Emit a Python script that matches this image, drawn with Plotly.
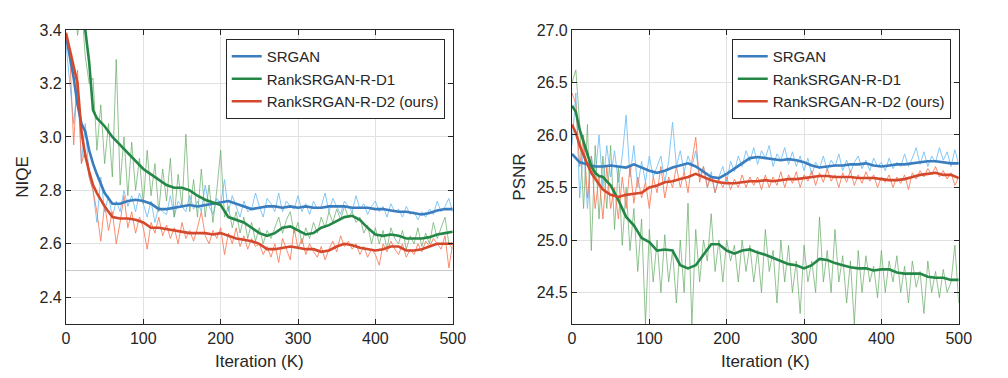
import plotly.graph_objects as go

# ---------------- data ----------------
# raw (thin) curves sampled every 5K iterations
raw_iter = list(range(0, 505, 5))
# smoothed (thick) curves
smooth_iter = [0, 5, 10, 15, 20, 25, 30, 35, 40] + list(range(50, 510, 10))

niqe_srgan_raw = [3.35, 3.20, 3.05, 3.20, 2.90, 3.05, 2.85, 2.80, 2.68, 2.85, 2.72, 2.78, 2.70, 2.76, 2.72, 2.80, 2.74, 2.78, 2.72, 2.79,
                  2.75, 2.70, 2.76, 2.68, 2.74, 2.72, 2.71, 2.78, 2.70, 2.76, 2.74, 2.72, 2.78, 2.73, 2.76, 2.72, 2.82, 2.74, 2.71, 2.77,
                  2.75, 2.84, 2.72, 2.78, 2.74, 2.70, 2.76, 2.72, 2.73, 2.79, 2.74, 2.70, 2.77, 2.75, 2.72, 2.79, 2.72, 2.76, 2.74, 2.73,
                  2.78, 2.72, 2.75, 2.71, 2.76, 2.73, 2.74, 2.79, 2.72, 2.77, 2.74, 2.71, 2.76, 2.74, 2.72, 2.78, 2.73, 2.75, 2.71, 2.74,
                  2.76, 2.72, 2.74, 2.70, 2.75, 2.72, 2.73, 2.70, 2.74, 2.71, 2.72, 2.69, 2.72, 2.70, 2.73, 2.71, 2.76, 2.72, 2.74, 2.77, 2.72]
niqe_d1_raw = [3.50, 3.45, 3.60, 3.38, 3.50, 3.30, 3.20, 3.22, 2.95, 3.12, 2.90, 3.05, 2.85, 3.29, 2.82, 3.00, 2.78, 2.98, 2.80, 2.92,
               2.75, 2.95, 2.78, 2.90, 2.72, 2.88, 2.76, 2.92, 2.70, 2.86, 2.74, 3.01, 2.72, 2.84, 2.70, 2.88, 2.70, 2.82, 2.68, 2.80,
               2.95, 2.70, 2.74, 2.66, 2.72, 2.64, 2.70, 2.62, 2.68, 2.61, 2.66, 2.60, 2.65, 2.62, 2.66, 2.70, 2.64, 2.69, 2.72, 2.64,
               2.68, 2.60, 2.66, 2.62, 2.68, 2.64, 2.70, 2.66, 2.72, 2.68, 2.73, 2.69, 2.74, 2.70, 2.72, 2.68, 2.70, 2.64, 2.67, 2.60,
               2.66, 2.60, 2.65, 2.58, 2.66, 2.62, 2.60, 2.65, 2.58, 2.63, 2.60, 2.66, 2.59, 2.64, 2.60, 2.68, 2.62, 2.66, 2.70, 2.60, 2.58]
niqe_d2_raw = [3.38, 3.30, 2.97, 3.25, 2.90, 2.95, 2.85, 2.80, 2.72, 2.61, 2.75, 2.65, 2.72, 2.60, 2.68, 2.78, 2.66, 2.72, 2.64, 2.70,
               2.66, 2.58, 2.68, 2.64, 2.70, 2.63, 2.67, 2.62, 2.66, 2.60, 2.68, 2.62, 2.65, 2.61, 2.66, 2.72, 2.63, 2.60, 2.65, 2.62,
               2.66, 2.56, 2.64, 2.60, 2.66, 2.59, 2.63, 2.58, 2.62, 2.59, 2.60, 2.56, 2.59, 2.55, 2.60, 2.53, 2.62, 2.58, 2.54, 2.66,
               2.58, 2.62, 2.56, 2.60, 2.57, 2.55, 2.59, 2.54, 2.58, 2.61, 2.57, 2.63, 2.59, 2.61, 2.58, 2.60, 2.56, 2.59, 2.55, 2.58,
               2.56, 2.52, 2.60, 2.57, 2.61, 2.58, 2.56, 2.60, 2.55, 2.58, 2.56, 2.60, 2.57, 2.61, 2.59, 2.62, 2.60, 2.58, 2.63, 2.51, 2.60]

niqe_srgan = [3.38, 3.30, 3.22, 3.12, 3.05, 3.02, 2.95, 2.90, 2.86, 2.79, 2.75, 2.75, 2.76, 2.765, 2.76, 2.75, 2.73, 2.73, 2.735, 2.74,
              2.745, 2.74, 2.745, 2.75, 2.755, 2.76, 2.75, 2.74, 2.73, 2.735, 2.74, 2.74, 2.735, 2.74, 2.735, 2.74, 2.735, 2.735, 2.74,
              2.74, 2.74, 2.735, 2.735, 2.735, 2.73, 2.73, 2.725, 2.72, 2.72, 2.715, 2.71, 2.715, 2.725, 2.73, 2.73]
niqe_d1 = [3.70, 3.62, 3.55, 3.48, 3.44, 3.40, 3.28, 3.10, 3.07, 3.04, 3.00, 2.97, 2.94, 2.91, 2.88, 2.86, 2.84, 2.82, 2.81, 2.81,
           2.80, 2.78, 2.765, 2.755, 2.745, 2.70, 2.69, 2.68, 2.66, 2.64, 2.63, 2.64, 2.66, 2.665, 2.65, 2.635, 2.64, 2.66, 2.67,
           2.685, 2.70, 2.705, 2.69, 2.66, 2.635, 2.63, 2.635, 2.63, 2.62, 2.62, 2.62, 2.625, 2.635, 2.64, 2.645]
niqe_d2 = [3.39, 3.33, 3.27, 3.20, 3.02, 2.93, 2.87, 2.82, 2.79, 2.74, 2.70, 2.695, 2.695, 2.69, 2.68, 2.66, 2.66, 2.655, 2.65, 2.645,
           2.64, 2.64, 2.64, 2.635, 2.64, 2.63, 2.62, 2.615, 2.61, 2.60, 2.58, 2.58, 2.585, 2.59, 2.585, 2.58, 2.58, 2.57, 2.575,
           2.59, 2.60, 2.595, 2.585, 2.58, 2.575, 2.58, 2.59, 2.59, 2.575, 2.575, 2.58, 2.59, 2.60, 2.60, 2.60]

psnr_srgan_raw = [25.90, 26.40, 25.40, 25.90, 25.30, 25.80, 25.60, 26.00, 25.50, 25.90, 25.60, 25.85, 25.55, 25.80, 26.19, 25.60, 25.90, 25.50, 25.75, 25.55,
                  25.80, 25.60, 25.70, 25.80, 25.55, 25.75, 26.12, 25.70, 25.85, 25.65, 25.80, 25.70, 25.85, 25.60, 25.70, 25.50, 25.65, 25.45, 25.60, 25.70,
                  25.55, 25.75, 25.65, 25.80, 25.70, 25.85, 25.75, 25.88, 25.72, 25.85, 25.78, 25.90, 25.70, 25.82, 25.76, 25.88, 25.72, 25.84, 25.70, 25.80,
                  25.66, 25.78, 25.62, 25.74, 25.68, 25.80, 25.66, 25.76, 25.70, 25.82, 25.66, 25.76, 25.64, 25.74, 25.80, 25.68, 25.76, 25.66, 25.78, 25.70,
                  25.74, 25.66, 25.78, 25.68, 25.74, 25.70, 25.82, 25.70, 25.78, 25.88, 25.72, 25.84, 25.70, 25.80, 25.74, 25.88, 25.76, 25.84, 25.70, 25.86, 25.72]
psnr_d1_raw = [26.50, 26.62, 26.10, 25.30, 26.10, 24.90, 25.90, 25.20, 25.80, 25.30, 25.90, 25.10, 25.70, 24.95, 25.50, 24.90, 25.30, 24.70, 25.20, 24.20,
               25.10, 24.60, 25.00, 24.50, 25.05, 24.60, 24.90, 24.40, 25.00, 24.50, 25.35, 24.20, 25.10, 24.60, 25.00, 24.80, 25.25, 24.70, 25.00, 24.60,
               25.00, 24.80, 24.95, 24.60, 25.00, 24.70, 24.95, 24.60, 24.90, 24.50, 25.10, 24.70, 24.90, 24.40, 25.00, 24.60, 24.95, 24.50, 24.80, 24.30,
               24.95, 24.60, 24.80, 24.50, 25.22, 24.60, 24.90, 24.50, 25.10, 24.60, 24.85, 24.40, 24.80, 24.20, 24.90, 24.50, 24.85, 24.60, 24.75, 24.45,
               24.90, 24.50, 24.80, 24.60, 24.85, 24.50, 24.75, 24.40, 24.80, 24.55, 24.70, 24.30, 24.80, 24.50, 24.70, 24.45, 24.72, 24.50, 24.60, 24.95, 24.40]
psnr_d2_raw = [26.40, 26.30, 25.70, 26.00, 25.40, 25.80, 25.30, 25.60, 25.20, 25.70, 25.30, 25.50, 25.20, 25.60, 25.30, 25.70, 25.35, 25.60, 25.40, 25.55,
               25.30, 25.60, 25.45, 25.70, 25.40, 25.60, 25.50, 25.70, 25.50, 25.65, 25.45, 25.75, 25.98, 25.55, 25.70, 25.50, 25.62, 25.45, 25.58, 25.50,
               25.60, 25.48, 25.58, 25.50, 25.62, 25.50, 25.60, 25.52, 25.60, 25.48, 25.62, 25.50, 25.60, 25.52, 25.65, 25.50, 25.62, 25.54, 25.65, 25.50,
               25.62, 25.56, 25.66, 25.52, 25.64, 25.55, 25.68, 25.56, 25.62, 25.50, 25.64, 25.55, 25.66, 25.52, 25.62, 25.54, 25.65, 25.56, 25.62, 25.50,
               25.60, 25.55, 25.62, 25.50, 25.60, 25.54, 25.62, 25.48, 25.64, 25.58, 25.66, 25.60, 25.68, 25.62, 25.70, 25.60, 25.66, 25.58, 25.64, 25.52, 25.60]

psnr_srgan = [25.82, 25.78, 25.74, 25.73, 25.72, 25.71, 25.70, 25.70, 25.70, 25.71, 25.70, 25.69, 25.72, 25.69, 25.66, 25.64, 25.66, 25.69, 25.71, 25.73,
              25.70, 25.65, 25.60, 25.59, 25.63, 25.68, 25.73, 25.78, 25.79, 25.78, 25.77, 25.76, 25.77, 25.76, 25.74, 25.71, 25.69, 25.70, 25.71,
              25.71, 25.72, 25.72, 25.73, 25.71, 25.70, 25.71, 25.72, 25.72, 25.73, 25.74, 25.75, 25.75, 25.74, 25.73, 25.73]
psnr_d1 = [26.28, 26.22, 26.05, 25.93, 25.80, 25.70, 25.64, 25.61, 25.60, 25.52, 25.38, 25.22, 25.14, 25.02, 24.98, 24.90, 24.91, 24.90, 24.76, 24.73,
           24.76, 24.86, 24.96, 24.96, 24.90, 24.87, 24.90, 24.91, 24.88, 24.86, 24.83, 24.80, 24.77, 24.76, 24.73, 24.76, 24.82, 24.81, 24.78,
           24.76, 24.74, 24.73, 24.73, 24.71, 24.72, 24.72, 24.69, 24.68, 24.68, 24.68, 24.65, 24.64, 24.64, 24.62, 24.62]
psnr_d2 = [26.10, 26.02, 25.90, 25.80, 25.72, 25.64, 25.58, 25.53, 25.48, 25.43, 25.41, 25.43, 25.44, 25.45, 25.50, 25.52, 25.55, 25.56, 25.58, 25.60,
           25.63, 25.60, 25.57, 25.55, 25.54, 25.54, 25.55, 25.56, 25.56, 25.57, 25.56, 25.57, 25.58, 25.58, 25.59, 25.60, 25.61, 25.61, 25.60,
           25.60, 25.60, 25.59, 25.59, 25.59, 25.58, 25.57, 25.57, 25.58, 25.60, 25.62, 25.63, 25.64, 25.62, 25.62, 25.59]

names = ["SRGAN", "RankSRGAN-R-D1", "RankSRGAN-R-D2 (ours)"]
niqe_ticks = [2.4, 2.6, 2.8, 3.0, 3.2, 3.4]
psnr_ticks = [24.5, 25.0, 25.5, 26.0, 26.5, 27.0]
x_ticks = [0, 100, 200, 300, 400, 500]

# ---------------- styling ----------------
raw_colors = ["rgba(110,190,245,0.85)", "rgba(100,170,100,0.7)", "rgba(250,120,85,0.85)"]
smooth_colors = ["rgb(58,125,190)", "rgb(36,135,72)", "rgb(212,72,44)"]
FONT = "Liberation Sans, Arial, sans-serif"
TXT = "rgb(38,38,38)"

fig = go.Figure()

panels = [
    ("x", "y", "legend", [niqe_srgan_raw, niqe_d1_raw, niqe_d2_raw], [niqe_srgan, niqe_d1, niqe_d2]),
    ("x2", "y2", "legend2", [psnr_srgan_raw, psnr_d1_raw, psnr_d2_raw], [psnr_srgan, psnr_d1, psnr_d2]),
]
for xa, ya, leg, raws, smooths in panels:
    for i in range(3):
        fig.add_trace(go.Scatter(x=raw_iter, y=raws[i], mode="lines", xaxis=xa, yaxis=ya,
                                 line=dict(color=raw_colors[i], width=1), showlegend=False,
                                 hoverinfo="skip"))
    for i in range(3):
        fig.add_trace(go.Scatter(x=smooth_iter, y=smooths[i], mode="lines", xaxis=xa, yaxis=ya,
                                 line=dict(color=smooth_colors[i], width=2.6), name=names[i],
                                 legend=leg, showlegend=True))

axis_common = dict(showgrid=True, gridcolor="rgb(225,225,225)", gridwidth=1, zeroline=False,
                   showline=True, linecolor=TXT, linewidth=1, mirror="ticks",
                   ticks="inside", ticklen=5, tickcolor=TXT, automargin=False,
                   tickfont=dict(family=FONT, size=16, color=TXT))

title_font = dict(family=FONT, size=17, color=TXT)

Y_DOM = [0.164, 0.9418]

fig.update_layout(
    width=1008, height=378,
    margin=dict(l=0, r=0, t=0, b=0),
    paper_bgcolor="white", plot_bgcolor="white",
    xaxis=dict(domain=[0.0575, 0.4412], range=[0, 500], tickvals=x_ticks, anchor="y",
               title=dict(text="Iteration (K)", font=title_font, standoff=8), **axis_common),
    yaxis=dict(domain=Y_DOM, range=[2.3, 3.4], tickvals=niqe_ticks, tickformat=".1f", anchor="x",
               title=dict(text="NIQE", font=title_font, standoff=6), **axis_common),
    xaxis2=dict(domain=[0.5595, 0.9432], range=[0, 500], tickvals=x_ticks, anchor="y2",
                title=dict(text="Iteration (K)", font=title_font, standoff=8), **axis_common),
    yaxis2=dict(domain=Y_DOM, range=[24.2, 27.0], tickvals=psnr_ticks, tickformat=".1f", anchor="x2",
                title=dict(text="PSNR", font=title_font, standoff=6), **axis_common),
    legend=dict(x=0.216, y=0.918, xanchor="left", yanchor="top", bgcolor="white",
                bordercolor=TXT, borderwidth=1, font=dict(family=FONT, size=15, color=TXT),
                tracegroupgap=0, itemwidth=30),
    legend2=dict(x=0.718, y=0.918, xanchor="left", yanchor="top", bgcolor="white",
                 bordercolor=TXT, borderwidth=1, font=dict(family=FONT, size=15, color=TXT),
                 tracegroupgap=0, itemwidth=30),
    shapes=[dict(type="line", xref="x", yref="y", x0=0, x1=500, y0=2.5, y1=2.5,
                 line=dict(color="rgb(200,200,200)", width=1), layer="below")],
)

fig.write_html("out.html")
